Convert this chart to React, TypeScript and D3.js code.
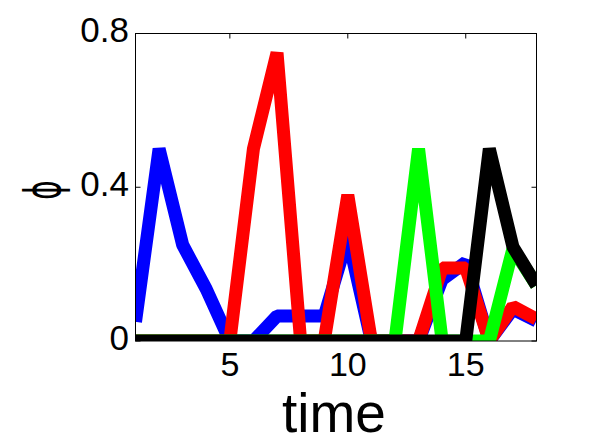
import React from "react";
import * as d3 from "d3";

const times = [1, 2, 3, 4, 5, 6, 7, 8, 9, 10, 11, 12, 13, 14, 15, 16, 17, 18];
const blueSeries = [0.05, 0.5, 0.25, 0.135, 0, 0, 0.065, 0.065, 0.065, 0.27, 0, 0, 0, 0.16, 0.205, 0, 0.083, 0.052];
const redSeries = [0, 0, 0, 0, 0, 0.5, 0.75, 0, 0, 0.38, 0, 0, 0, 0.19, 0.19, 0, 0.09, 0.057];
const greenSeries = [0, 0, 0, 0, 0, 0, 0, 0, 0, 0, 0, 0, 0.5, 0, 0, 0, 0.24, 0.145];
const blackSeries = [0, 0, 0, 0, 0, 0, 0, 0, 0, 0, 0, 0, 0, 0, 0, 0.5, 0.245, 0.145];
const seriesList = [
  { name: "blue", values: blueSeries, color: "#0000ff" },
  { name: "red", values: redSeries, color: "#ff0000" },
  { name: "green", values: greenSeries, color: "#00ff00" },
  { name: "black", values: blackSeries, color: "#000000" },
];
const xTicks = [5, 10, 15];
const yTicks = [0, 0.4, 0.8];
const yTickLabels = ["0", "0.4", "0.8"];

const W = 592;
const H = 443;
const left = 135.5;
const right = 536.5;
const top = 33.5;
const bottom = 341;

export default function App() {
  const x = d3.scaleLinear().domain([1, 18]).range([left, right]);
  const y = d3.scaleLinear().domain([0, 0.8]).range([bottom, top]);
  const line = d3
    .line<number>()
    .x((_, i) => x(times[i]))
    .y((d) => y(d));
  const font = "'Liberation Sans', Arial, sans-serif";
  return (
    <svg
      width={W}
      height={H}
      style={{ position: "absolute", left: 0, top: 0, background: "#fff" }}
    >
      <defs>
        <clipPath id="plotclip">
          <rect x={left} y={top} width={right - left} height={bottom - top} />
        </clipPath>
      </defs>
      <rect x={0} y={0} width={W} height={H} fill="#fff" />
      <g clipPath="url(#plotclip)">
        {seriesList.map((s) => (
          <path
            key={s.name}
            d={line(s.values) || ""}
            fill="none"
            stroke={s.color}
            strokeWidth={13}
            strokeLinejoin="bevel"
            strokeLinecap="butt"
          />
        ))}
      </g>
      <rect
        x={left}
        y={top}
        width={right - left}
        height={bottom - top}
        fill="none"
        stroke="#000"
        strokeWidth={1}
      />
      {xTicks.map((t) => (
        <g key={"xt" + t}>
          <line x1={x(t)} x2={x(t)} y1={bottom} y2={bottom - 5} stroke="#000" />
          <line x1={x(t)} x2={x(t)} y1={top} y2={top + 5} stroke="#000" />
          <text
            x={x(t)}
            y={376}
            textAnchor="middle"
            fontFamily={font}
            fontSize={34}
            fill="#000"
          >
            {t}
          </text>
        </g>
      ))}
      {yTicks.map((t, i) => (
        <g key={"yt" + t}>
          <line x1={left} x2={left + 5} y1={y(t)} y2={y(t)} stroke="#000" />
          <line x1={right} x2={right - 5} y1={y(t)} y2={y(t)} stroke="#000" />
          <text
            x={129}
            y={y(t) + 8.7}
            textAnchor="end"
            fontFamily={font}
            fontSize={35}
            fill="#000"
          >
            {yTickLabels[i]}
          </text>
        </g>
      ))}
      <text
        x={334}
        y={432}
        textAnchor="middle"
        fontFamily={font}
        fontSize={55}
        fill="#000"
      >
        time
      </text>
      <text
        transform="translate(60,190) rotate(-90) scale(0.6,1)"
        textAnchor="middle"
        fontFamily="'DejaVu Sans', sans-serif"
        fontSize={50}
        fill="#000"
      >
        ϕ
      </text>
    </svg>
  );
}
